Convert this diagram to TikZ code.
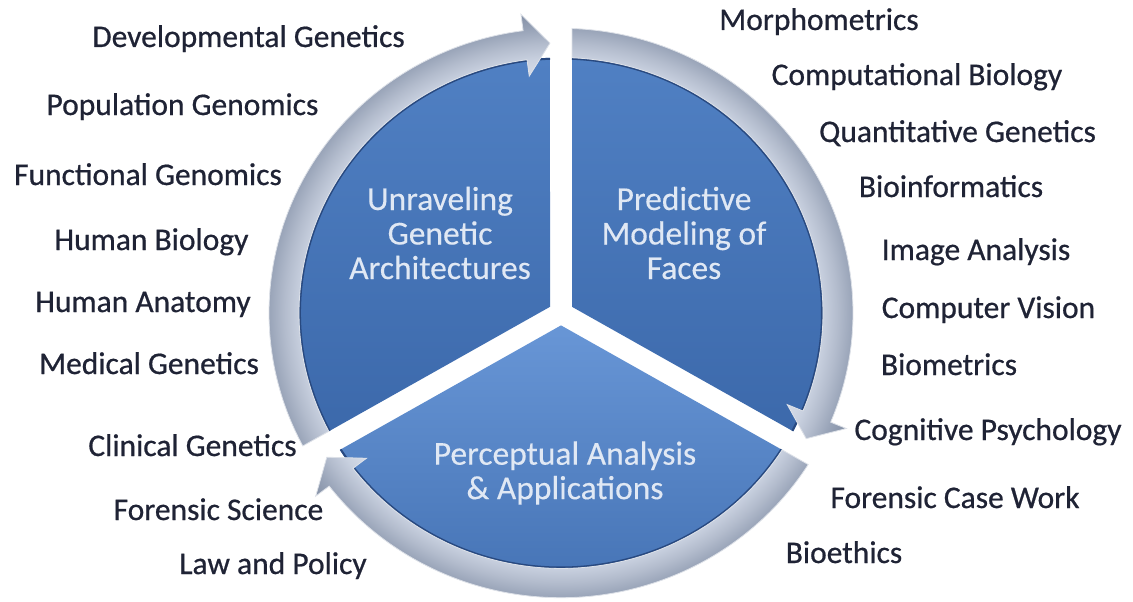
\documentclass[tikz,border=0pt]{standalone}
\usepackage{fontspec}
\setmainfont{Carlito}
\newfontfamily\lblfont[FakeBold=0.6]{Carlito}
\newfontfamily\infont[FakeBold=0.3]{Carlito}
\definecolor{lblc}{HTML}{1F2335}
\definecolor{intext}{HTML}{E0E8F4}
\definecolor{secTop}{HTML}{5080C3}
\definecolor{secBot}{HTML}{3C69AB}
\definecolor{perTop}{HTML}{6896D6}
\definecolor{perBot}{HTML}{4371B3}
\definecolor{secedge}{HTML}{284980}
\definecolor{rgA}{HTML}{D8DEE9}
\definecolor{rgB}{HTML}{C8D0DF}
\definecolor{rgC}{HTML}{B3BCCD}
\definecolor{rgD}{HTML}{9AA5B9}
\definecolor{rgE}{HTML}{828EA4}
\pgfdeclareradialshading{ringshade}{\pgfpoint{0bp}{0bp}}{color(0bp)=(rgA); color(19.6bp)=(rgA); color(21.1bp)=(rgB); color(22.3bp)=(rgC); color(23.5bp)=(rgD); color(25bp)=(rgE); color(50bp)=(rgE)}
\tikzset{
  lbl/.style={font=\lblfont\fontsize{31.5}{38}\selectfont, text=lblc, inner sep=0pt, anchor=base},
  intxt/.style={font=\infont\fontsize{33.5}{34.5}\selectfont, text=intext, align=center, inner sep=0pt},
  arrowedge/.style={draw=white!55!rgC, line width=0.8pt}
}
\begin{document}
\begin{tikzpicture}[x=1pt,y=-1pt]
\useasboundingbox (0,0) rectangle (1133,602);
\fill[white] (0,0) rectangle (1133,602);
\begin{scope}[shift={(561,313)}, yscale=0.975]
  % sectors
  \shade[top color=secTop, bottom color=secBot] (210:12.7) -- (152.41:262) arc[start angle=152.41, end angle=267.59, radius=262] -- cycle;
  \shade[top color=secTop, bottom color=secBot] (-30:12.7) -- (-87.59:262) arc[start angle=-87.59, end angle=27.59, radius=262] -- cycle;
  \shade[top color=perTop, bottom color=perBot] (90:12.7) -- (32.41:262) arc[start angle=32.41, end angle=147.59, radius=262] -- cycle;
  \draw[secedge, line width=2pt] (152.41:261) arc[start angle=152.41, end angle=267.59, radius=261];
  \draw[secedge, line width=2pt] (-87.59:261) arc[start angle=-87.59, end angle=27.59, radius=261];
  \draw[secedge, line width=2pt] (32.41:261) arc[start angle=32.41, end angle=147.59, radius=261];
  % ring arrows
  \foreach \a/\b in {150/270, -90/30, 30/150}{
    \pgfmathsetmacro{\ta}{\a+2.16}
    \pgfmathsetmacro{\tb}{\a+2.41}
    \pgfmathsetmacro{\hb}{\b-7.45}
    \pgfmathsetmacro{\tip}{\b-2.28}
    \begin{scope}
      \clip (\ta:292) arc[start angle=\ta, end angle=\hb, radius=292] -- (\hb:309) -- (\tip:277) -- (\hb:245) -- (\hb:262) arc[start angle=\hb, end angle=\tb, radius=262] -- cycle;
      \shade[shading=ringshade] (0,0) circle[radius=310];
    \end{scope}
    \draw[arrowedge] (\ta:292) arc[start angle=\ta, end angle=\hb, radius=292] -- (\hb:309) -- (\tip:277) -- (\hb:245) -- (\hb:262) arc[start angle=\hb, end angle=\tb, radius=262] -- cycle;
  }
\end{scope}
% inner texts
\node[intxt] (unravel) at (440,233) {Unraveling\\Genetic\\Architectures};
\node[intxt] (predict) at (684,233) {Predictive\\Modeling of\\Faces};
\node[intxt] (percept) at (565,473) {Perceptual Analysis\\\& Applications};
% left labels
\node[lbl] (devgen) at (248.5,47) {Developmental Genetics};
\node[lbl] (popgen) at (182.5,115) {Population Genomics};
\node[lbl] (funcgen) at (148,185) {Functional Genomics};
\node[lbl] (humbio) at (151.5,250) {Human Biology};
\node[lbl] (humana) at (143,312) {Human Anatomy};
\node[lbl] (medgen) at (149,374) {Medical Genetics};
\node[lbl] (clingen) at (192.5,456) {Clinical Genetics};
\node[lbl] (forsci) at (218.5,520) {Forensic Science};
\node[lbl] (law) at (273,574) {Law and Policy};
% right labels
\node[lbl] (morph) at (819,30) {Morphometrics};
\node[lbl] (compbio) at (917,85) {Computational Biology};
\node[lbl] (quant) at (957.5,142) {Quantitative Genetics};
\node[lbl] (bioinf) at (951,197) {Bioinformatics};
\node[lbl] (image) at (976,260) {Image Analysis};
\node[lbl] (vision) at (988.5,318) {Computer Vision};
\node[lbl] (biomet) at (949,375) {Biometrics};
\node[lbl] (cogpsy) at (988,440) {Cognitive Psychology};
\node[lbl] (forcase) at (955,508) {Forensic Case Work};
\node[lbl] (bioeth) at (844,563) {Bioethics};
\end{tikzpicture}
\end{document}
